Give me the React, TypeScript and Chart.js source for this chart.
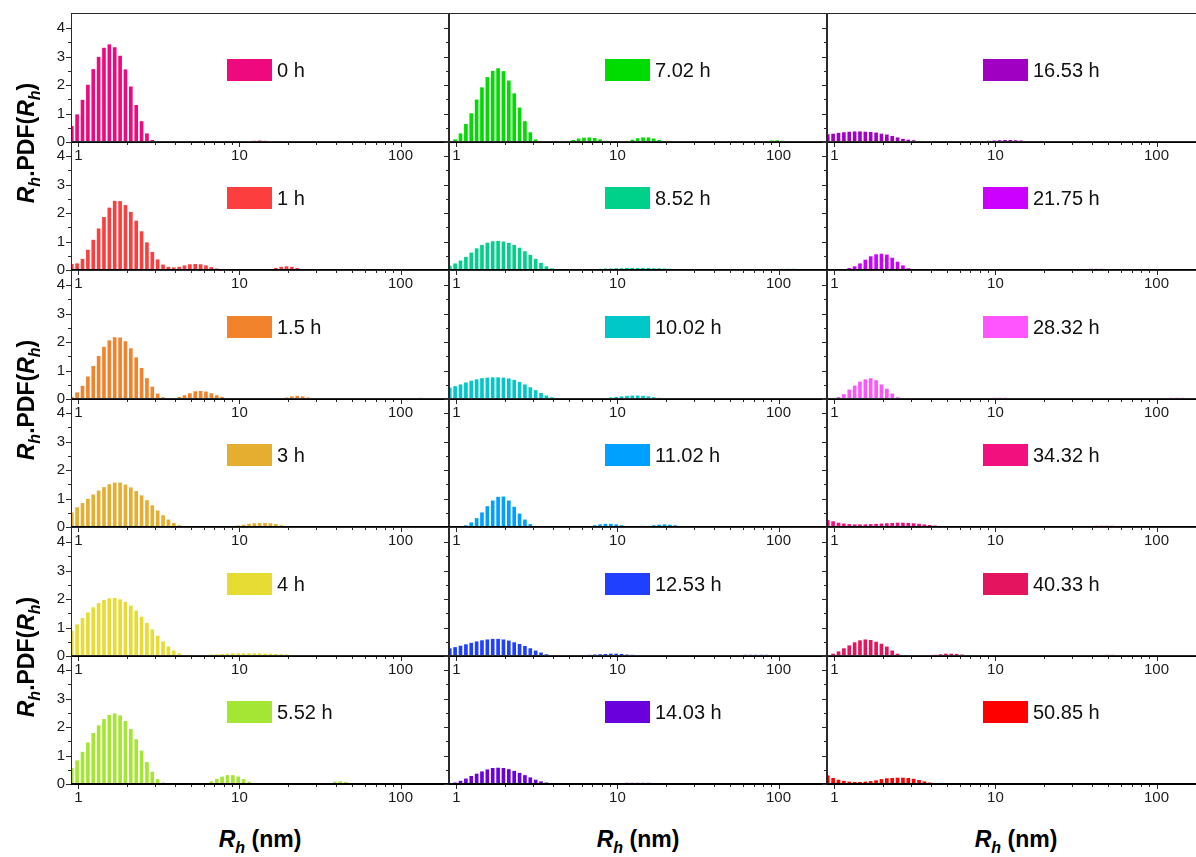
import React, { useEffect, useRef } from "react";
import { Chart, registerables } from "chart.js";

Chart.register(...registerables);

const FONT = "'Liberation Sans', Arial, Helvetica, sans-serif";
Chart.defaults.font.family = FONT;

// Hydrodynamic radius bins (nm), log spaced
const RH_BINS = [
  0.910, 0.982, 1.061, 1.146, 1.237, 1.336, 1.442, 1.557, 1.681, 1.816,
  1.960, 2.117, 2.286, 2.468, 2.665, 2.877, 3.107, 3.355, 3.622, 3.911,
  4.223, 4.560, 4.923, 5.316, 5.741, 6.198, 6.693, 7.228, 7.803, 8.426,
  9.099, 9.824, 10.61, 11.46, 12.37, 13.36, 14.42, 15.57, 16.81, 18.16,
  19.60, 21.17, 22.86, 24.68, 26.65, 28.77, 31.07, 33.55, 36.22, 39.11,
  42.23, 45.60, 49.23, 53.16, 57.41, 61.98, 66.93, 72.28, 78.03, 84.26,
  90.99, 98.24, 106.1, 114.6, 123.7, 133.6, 144.2, 155.7, 168.1, 181.6,
  196.0,
];

const TIME_LABELS = [
  "0 h", "1 h", "1.5 h", "3 h", "4 h", "5.52 h",
  "7.02 h", "8.52 h", "10.02 h", "11.02 h", "12.53 h", "14.03 h",
  "16.53 h", "21.75 h", "28.32 h", "34.32 h", "40.33 h", "50.85 h",
];

const COLORS = [
  "#ee0a7e", "#fb3f3f", "#f0832b", "#e5ae30", "#e6dc33", "#a5e634",
  "#00dc00", "#00d18a", "#00c8c8", "#00a0ff", "#2040ff", "#6a00dc",
  "#a000c2", "#cc00ff", "#ff55ff", "#f2107e", "#e4145f", "#ff0000",
];

const PDF_0H = [
  0.55, 0.96, 1.47, 2.00, 2.55, 2.98, 3.30, 3.42, 3.32, 3.02,
  2.54, 1.94, 1.29, 0.72, 0.29, 0.06, 0, 0, 0, 0,
  0, 0, 0, 0, 0, 0, 0, 0, 0, 0,
  0, 0, 0, 0, 0.03, 0.04, 0.03, 0, 0, 0,
  0, 0, 0, 0, 0, 0, 0, 0, 0, 0,
  0, 0, 0, 0, 0, 0, 0, 0, 0, 0,
  0, 0, 0, 0, 0, 0, 0, 0, 0, 0,
  0,
];
const PDF_1H = [
  0.20, 0.22, 0.38, 0.70, 1.05, 1.45, 1.85, 2.18, 2.42, 2.41,
  2.27, 2.03, 1.72, 1.35, 0.96, 0.62, 0.36, 0.18, 0.10, 0.08,
  0.10, 0.15, 0.19, 0.20, 0.19, 0.15, 0.09, 0.04, 0.01, 0,
  0, 0, 0, 0, 0, 0, 0, 0.02, 0.06, 0.10,
  0.12, 0.10, 0.06, 0.02, 0, 0, 0, 0, 0, 0,
  0, 0, 0, 0, 0, 0, 0, 0, 0, 0,
  0, 0, 0, 0, 0, 0, 0, 0.02, 0.02, 0,
  0,
];
const PDF_1_5H = [
  0.06, 0.22, 0.45, 0.78, 1.15, 1.50, 1.82, 2.05, 2.16, 2.15,
  2.02, 1.77, 1.45, 1.08, 0.72, 0.42, 0.18, 0.05, 0, 0.02,
  0.06, 0.12, 0.19, 0.26, 0.27, 0.25, 0.19, 0.12, 0.06, 0.02,
  0, 0, 0, 0, 0, 0, 0, 0, 0, 0,
  0.04, 0.08, 0.10, 0.08, 0.04, 0, 0, 0, 0, 0,
  0, 0, 0, 0, 0, 0, 0, 0, 0, 0,
  0, 0, 0, 0, 0.02, 0.03, 0.02, 0, 0, 0,
  0,
];
const PDF_3H = [
  0.50, 0.68, 0.83, 0.98, 1.13, 1.27, 1.39, 1.49, 1.55, 1.55,
  1.48, 1.38, 1.25, 1.10, 0.93, 0.75, 0.57, 0.40, 0.25, 0.13,
  0.05, 0.02, 0, 0, 0, 0, 0, 0, 0, 0.01,
  0.02, 0.04, 0.07, 0.10, 0.12, 0.13, 0.13, 0.12, 0.09, 0.05,
  0.02, 0, 0, 0, 0, 0, 0, 0, 0, 0,
  0, 0, 0, 0, 0, 0, 0, 0, 0, 0,
  0, 0, 0, 0.02, 0.02, 0.02, 0, 0, 0, 0,
  0,
];
const PDF_4H = [
  0.88, 1.10, 1.32, 1.52, 1.70, 1.85, 1.96, 2.02, 2.03, 1.98,
  1.89, 1.76, 1.58, 1.37, 1.15, 0.92, 0.70, 0.50, 0.32, 0.18,
  0.08, 0.02, 0, 0, 0.01, 0.02, 0.04, 0.05, 0.06, 0.07,
  0.08, 0.08, 0.08, 0.08, 0.08, 0.08, 0.07, 0.07, 0.06, 0.05,
  0.04, 0.03, 0.02, 0.01, 0, 0, 0, 0, 0, 0,
  0, 0, 0, 0, 0, 0, 0, 0, 0, 0,
  0.01, 0.02, 0.02, 0.02, 0.02, 0.02, 0.01, 0, 0, 0,
  0,
];
const PDF_5_52H = [
  0.55, 0.82, 1.12, 1.45, 1.78, 2.05, 2.27, 2.42, 2.47, 2.40,
  2.20, 1.92, 1.56, 1.16, 0.76, 0.42, 0.16, 0.04, 0, 0,
  0, 0, 0, 0, 0, 0.02, 0.08, 0.17, 0.25, 0.30,
  0.30, 0.25, 0.16, 0.07, 0.02, 0, 0, 0, 0, 0,
  0, 0, 0, 0, 0, 0, 0, 0, 0.03, 0.07,
  0.08, 0.06, 0.02, 0, 0, 0, 0, 0, 0, 0,
  0, 0, 0, 0, 0, 0, 0, 0, 0, 0,
  0,
];
const PDF_7_02H = [
  0, 0.08, 0.29, 0.62, 1.00, 1.48, 1.91, 2.27, 2.49, 2.58,
  2.48, 2.15, 1.70, 1.20, 0.72, 0.33, 0.08, 0, 0, 0,
  0, 0, 0.02, 0.06, 0.11, 0.14, 0.15, 0.13, 0.08, 0.03,
  0, 0, 0, 0.02, 0.07, 0.12, 0.15, 0.15, 0.11, 0.06,
  0.02, 0, 0, 0, 0, 0, 0, 0, 0, 0,
  0, 0, 0, 0, 0, 0, 0, 0, 0, 0,
  0.04, 0.05, 0.03, 0, 0, 0, 0, 0, 0, 0,
  0,
];
const PDF_8_52H = [
  0.14, 0.22, 0.32, 0.45, 0.60, 0.75, 0.87, 0.95, 1.00, 1.01,
  0.99, 0.94, 0.87, 0.77, 0.65, 0.52, 0.38, 0.24, 0.12, 0.05,
  0.01, 0, 0, 0, 0, 0, 0.01, 0.02, 0.03, 0.04,
  0.04, 0.05, 0.05, 0.06, 0.06, 0.06, 0.06, 0.06, 0.05, 0.05,
  0.04, 0.03, 0.02, 0.01, 0, 0, 0, 0, 0, 0,
  0, 0, 0, 0, 0, 0, 0, 0, 0, 0,
  0, 0.02, 0.03, 0.03, 0.03, 0.02, 0, 0, 0, 0,
  0,
];
const PDF_10_02H = [
  0.39, 0.44, 0.50, 0.57, 0.63, 0.68, 0.72, 0.74, 0.75, 0.75,
  0.74, 0.71, 0.66, 0.59, 0.50, 0.40, 0.30, 0.20, 0.11, 0.05,
  0.01, 0, 0, 0, 0, 0, 0, 0, 0.01, 0.02,
  0.04, 0.06, 0.08, 0.10, 0.11, 0.11, 0.10, 0.08, 0.05, 0.03,
  0.01, 0, 0, 0, 0, 0, 0, 0, 0, 0.01,
  0.01, 0.01, 0.01, 0.01, 0.01, 0.01, 0.01, 0.01, 0.01, 0.01,
  0.01, 0.01, 0.01, 0.01, 0.01, 0.01, 0.01, 0.01, 0.01, 0.01,
  0.01,
];
const PDF_11_02H = [
  0, 0, 0.02, 0.05, 0.15, 0.30, 0.50, 0.72, 0.92, 1.05,
  1.06, 0.92, 0.70, 0.46, 0.25, 0.09, 0.02, 0, 0, 0,
  0, 0, 0, 0, 0, 0, 0.02, 0.05, 0.08, 0.10,
  0.10, 0.08, 0.05, 0.02, 0, 0, 0, 0.02, 0.05, 0.07,
  0.08, 0.07, 0.05, 0.02, 0, 0, 0, 0, 0, 0,
  0, 0, 0, 0, 0, 0, 0, 0, 0, 0,
  0, 0, 0.02, 0.02, 0.02, 0.02, 0.02, 0, 0, 0,
  0,
];
const PDF_12_53H = [
  0.26, 0.30, 0.35, 0.40, 0.45, 0.50, 0.54, 0.57, 0.59, 0.59,
  0.57, 0.53, 0.47, 0.41, 0.34, 0.26, 0.18, 0.11, 0.05, 0.02,
  0, 0, 0, 0.01, 0.02, 0.02, 0.03, 0.04, 0.05, 0.06,
  0.07, 0.07, 0.06, 0.04, 0.03, 0.01, 0, 0, 0, 0,
  0, 0, 0, 0, 0, 0, 0, 0, 0, 0,
  0, 0, 0, 0, 0.02, 0.03, 0.03, 0.03, 0.03, 0.03,
  0.02, 0, 0, 0, 0, 0, 0, 0, 0, 0,
  0,
];
const PDF_14_03H = [
  0, 0.04, 0.10, 0.18, 0.27, 0.35, 0.43, 0.50, 0.55, 0.56,
  0.55, 0.51, 0.45, 0.38, 0.30, 0.22, 0.14, 0.08, 0.04, 0.01,
  0, 0, 0, 0, 0, 0, 0, 0, 0, 0,
  0, 0.01, 0.02, 0.03, 0.03, 0.03, 0.03, 0.03, 0.02, 0.01,
  0, 0, 0, 0, 0, 0, 0, 0, 0, 0,
  0, 0, 0, 0, 0, 0, 0, 0, 0, 0,
  0, 0, 0, 0.02, 0.02, 0.02, 0, 0, 0, 0,
  0,
];
const PDF_16_53H = [
  0.26, 0.28, 0.31, 0.33, 0.35, 0.36, 0.36, 0.35, 0.34, 0.32,
  0.28, 0.25, 0.20, 0.15, 0.10, 0.07, 0.05, 0.02, 0.01, 0,
  0, 0, 0, 0, 0, 0, 0, 0, 0.01, 0.02,
  0.03, 0.04, 0.05, 0.06, 0.06, 0.05, 0.04, 0.02, 0.01, 0,
  0, 0, 0, 0, 0, 0, 0, 0, 0, 0,
  0, 0, 0, 0, 0, 0, 0, 0, 0, 0,
  0, 0, 0.02, 0.02, 0.02, 0.02, 0.02, 0.01, 0, 0,
  0,
];
const PDF_21_75H = [
  0, 0, 0, 0.02, 0.06, 0.12, 0.22, 0.35, 0.47, 0.54,
  0.56, 0.53, 0.42, 0.28, 0.15, 0.05, 0, 0, 0, 0,
  0, 0, 0, 0, 0, 0, 0, 0, 0, 0,
  0, 0, 0, 0, 0, 0, 0, 0, 0, 0,
  0, 0, 0, 0, 0, 0, 0, 0, 0, 0.03,
  0.03, 0.03, 0, 0, 0, 0, 0, 0, 0, 0,
  0, 0, 0, 0, 0, 0, 0, 0, 0, 0,
  0,
];
const PDF_28_32H = [
  0, 0.01, 0.06, 0.16, 0.32, 0.46, 0.60, 0.68, 0.72, 0.65,
  0.50, 0.35, 0.18, 0.05, 0, 0, 0, 0, 0, 0,
  0, 0, 0, 0, 0, 0, 0, 0, 0, 0,
  0.02, 0.03, 0.03, 0.03, 0.02, 0, 0, 0, 0, 0,
  0, 0, 0, 0, 0, 0, 0, 0, 0, 0,
  0, 0, 0, 0, 0, 0, 0, 0, 0, 0,
  0, 0, 0, 0.02, 0.03, 0.03, 0.03, 0.02, 0, 0,
  0,
];
const PDF_34_32H = [
  0.23, 0.19, 0.14, 0.11, 0.09, 0.08, 0.08, 0.08, 0.09, 0.10,
  0.11, 0.12, 0.13, 0.14, 0.14, 0.13, 0.12, 0.10, 0.08, 0.06,
  0.04, 0.02, 0, 0, 0, 0, 0, 0, 0, 0,
  0, 0, 0, 0, 0, 0, 0, 0, 0, 0,
  0, 0, 0, 0, 0, 0, 0, 0, 0, 0.02,
  0.03, 0.03, 0.03, 0.03, 0.02, 0, 0, 0, 0, 0,
  0, 0, 0, 0, 0, 0, 0, 0, 0, 0,
  0,
];
const PDF_40_33H = [
  0.02, 0.07, 0.15, 0.26, 0.36, 0.47, 0.54, 0.57, 0.55, 0.49,
  0.42, 0.32, 0.18, 0.07, 0.02, 0, 0, 0, 0, 0.01,
  0.03, 0.05, 0.07, 0.07, 0.06, 0.04, 0.02, 0, 0, 0,
  0, 0, 0, 0, 0, 0, 0, 0, 0, 0,
  0, 0, 0, 0, 0, 0, 0, 0, 0, 0,
  0, 0.02, 0.03, 0.03, 0.02, 0, 0, 0, 0, 0,
  0, 0, 0, 0, 0, 0, 0, 0, 0, 0,
  0,
];
const PDF_50_85H = [
  0.29, 0.20, 0.14, 0.10, 0.07, 0.06, 0.06, 0.07, 0.09, 0.12,
  0.16, 0.19, 0.20, 0.21, 0.21, 0.20, 0.17, 0.13, 0.08, 0.04,
  0.01, 0, 0, 0, 0, 0, 0, 0, 0, 0,
  0, 0, 0, 0, 0, 0, 0, 0, 0, 0,
  0, 0, 0, 0, 0, 0, 0, 0, 0, 0,
  0, 0, 0, 0, 0, 0, 0, 0, 0, 0,
  0, 0, 0, 0, 0, 0, 0, 0, 0, 0,
  0,
];

const SERIES = [
  PDF_0H, PDF_1H, PDF_1_5H, PDF_3H, PDF_4H, PDF_5_52H,
  PDF_7_02H, PDF_8_52H, PDF_10_02H, PDF_11_02H, PDF_12_53H, PDF_14_03H,
  PDF_16_53H, PDF_21_75H, PDF_28_32H, PDF_34_32H, PDF_40_33H, PDF_50_85H,
];

const X_MAJOR = [1, 10, 100];
const X_MINOR = [2, 3, 4, 5, 6, 7, 8, 9, 20, 30, 40, 50, 60, 70, 80, 90, 200];
const Y_MAJOR = [0, 1, 2, 3, 4];
const Y_MINOR = [0.5, 1.5, 2.5, 3.5];

// layout
const PLOT_W = 378;
const PLOT_H = 128;
const COL_X = [71, 449, 827];
const ROW_Y = [14, 142, 271, 399, 528, 656];
const PAD_L = 45;
const PAD_T = 20;
const PAD_R = 12;
const PAD_B = 32;

const framePlugin = {
  id: "panelFrame",
  afterDraw(chart: any) {
    const { ctx, chartArea, scales } = chart;
    const { left, right, top, bottom } = chartArea;
    const x = scales.x;
    const y = scales.y;
    ctx.save();
    ctx.strokeStyle = "#2a2a2a";
    ctx.lineWidth = 1;
    ctx.beginPath();
    ctx.moveTo(left, top - 0.5);
    ctx.lineTo(right, top - 0.5);
    ctx.moveTo(left + 0.5, top - 1);
    ctx.lineTo(left + 0.5, bottom);
    ctx.moveTo(right - 0.5, top - 1);
    ctx.lineTo(right - 0.5, bottom);
    Y_MAJOR.forEach((v) => {
      const py = Math.round(y.getPixelForValue(v)) + 0.5;
      ctx.moveTo(left - 5, py);
      ctx.lineTo(left, py);
    });
    Y_MINOR.forEach((v) => {
      const py = Math.round(y.getPixelForValue(v)) + 0.5;
      ctx.moveTo(left - 3, py);
      ctx.lineTo(left, py);
    });
    X_MAJOR.forEach((v) => {
      const px = Math.round(x.getPixelForValue(v)) + 0.5;
      ctx.moveTo(px, bottom);
      ctx.lineTo(px, bottom + 5);
    });
    X_MINOR.forEach((v) => {
      const px = Math.round(x.getPixelForValue(v)) + 0.5;
      if (px > right) return;
      ctx.moveTo(px, bottom);
      ctx.lineTo(px, bottom + 3);
    });
    ctx.stroke();
    ctx.strokeStyle = "#000";
    ctx.lineWidth = 2;
    ctx.beginPath();
    ctx.moveTo(left, bottom);
    ctx.lineTo(right, bottom);
    ctx.stroke();
    const ds = chart.data.datasets[0];
    ctx.fillStyle = ds.backgroundColor;
    ctx.fillRect(left + 156, top + 45, 45, 22);
    ctx.fillStyle = "#111";
    ctx.font = `20px ${FONT}`;
    ctx.textBaseline = "middle";
    ctx.textAlign = "left";
    ctx.fillText(ds.label, left + 206, top + 57);
    ctx.restore();
  },
};

function Panel({ idx }: { idx: number }) {
  const ref = useRef<HTMLCanvasElement>(null);
  const col = Math.floor(idx / 6);
  const row = idx % 6;
  useEffect(() => {
    const values = SERIES[idx];
    const chart = new Chart(ref.current as HTMLCanvasElement, {
      type: "bar",
      data: {
        datasets: [
          {
            label: TIME_LABELS[idx],
            data: RH_BINS.map((r, i) => ({ x: r, y: values[i] })),
            backgroundColor: COLORS[idx],
            borderWidth: 0,
            barThickness: 3,
          } as any,
        ],
      },
      options: {
        animation: false,
        responsive: false,
        maintainAspectRatio: false,
        events: [],
        layout: { padding: { top: PAD_T, right: PAD_R, left: 0, bottom: 0 } },
        plugins: {
          legend: { display: false },
          tooltip: { enabled: false },
          title: { display: false },
        },
        scales: {
          x: {
            type: "logarithmic",
            min: 0.9,
            max: 200,
            offset: false,
            grid: { display: false, drawTicks: false },
            border: { display: false },
            ticks: {
              padding: 5,
              color: "#1a1a1a",
              font: { size: 15 },
              maxRotation: 0,
              autoSkip: false,
              callback: (v: any) => String(v),
            },
            afterBuildTicks: (s: any) => {
              s.ticks = X_MAJOR.map((v) => ({ value: v }));
            },
            afterFit: (s: any) => {
              s.height = PAD_B;
            },
          },
          y: {
            type: "linear",
            min: 0,
            max: 4.5,
            grid: { display: false, drawTicks: false },
            border: { display: false },
            ticks: {
              display: col === 0,
              padding: 6,
              color: "#1a1a1a",
              font: { size: 15 },
              callback: (v: any) => String(v),
            },
            afterBuildTicks: (s: any) => {
              s.ticks = Y_MAJOR.map((v) => ({ value: v }));
            },
            afterFit: (s: any) => {
              s.width = PAD_L;
            },
          },
        },
      } as any,
      plugins: [framePlugin],
    });
    return () => chart.destroy();
  }, [idx, col]);
  const w = PAD_L + PLOT_W + PAD_R;
  const h = PAD_T + PLOT_H + PAD_B;
  return (
    <canvas
      ref={ref}
      width={w}
      height={h}
      style={{
        position: "absolute",
        left: COL_X[col] - PAD_L,
        top: ROW_Y[row] - PAD_T,
        width: w,
        height: h,
      }}
    />
  );
}

const subStyle: React.CSSProperties = {
  fontSize: 16,
  fontStyle: "italic",
  position: "relative",
  top: 6,
};

function YTitle({ yc }: { yc: number }) {
  return (
    <div
      style={{
        position: "absolute",
        left: 27,
        top: yc,
        transform: "translate(-50%, -50%) rotate(-90deg)",
        font: `bold 23px ${FONT}`,
        whiteSpace: "nowrap",
        color: "#000",
        lineHeight: "26px",
      }}
    >
      <i>R</i>
      <span style={subStyle}>h</span>.PDF(<i>R</i>
      <span style={subStyle}>h</span>)
    </div>
  );
}

function XTitle({ xc }: { xc: number }) {
  return (
    <div
      style={{
        position: "absolute",
        left: xc,
        top: 828,
        transform: "translateX(-50%)",
        font: `bold 23px ${FONT}`,
        whiteSpace: "nowrap",
        color: "#000",
        lineHeight: "23px",
      }}
    >
      <i>R</i>
      <span style={subStyle}>h</span> (nm)
    </div>
  );
}

export default function App() {
  return (
    <div
      style={{
        position: "fixed",
        left: 0,
        top: 0,
        width: 1196,
        height: 857,
        overflow: "hidden",
        background: "#fff",
      }}
    >
      {SERIES.map((_, i) => (
        <Panel key={i} idx={i} />
      ))}
      <YTitle yc={143} />
      <YTitle yc={400} />
      <YTitle yc={657} />
      <XTitle xc={260} />
      <XTitle xc={638} />
      <XTitle xc={1016} />
    </div>
  );
}
